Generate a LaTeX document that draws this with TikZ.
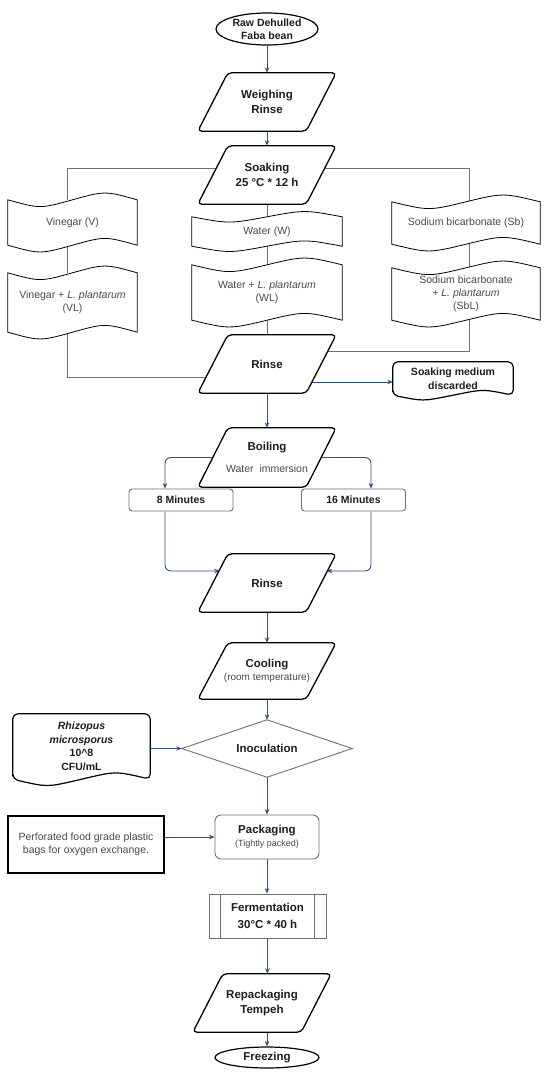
\documentclass[tikz,border=0pt]{standalone}
\usepackage{fontspec}
\setmainfont{Liberation Sans}
\usetikzlibrary{calc,arrows.meta,shapes.geometric}
\definecolor{arr}{HTML}{2E5283}
\definecolor{gline}{HTML}{707070}
\definecolor{txt}{HTML}{4A4A4A}
\definecolor{btxt}{HTML}{1E1E1E}
\pgfdeclarelayer{bg}\pgfdeclarelayer{shp}
\pgfsetlayers{bg,shp,main}
\tikzset{
 lbl/.style={inner sep=0pt, align=center, text=txt, font=\fontsize{10.5}{13}\selectfont},
 ttl/.style={font=\fontsize{11.5}{14.5}\selectfont\bfseries, text=btxt},
 bsm/.style={font=\fontsize{10.5}{13.5}\selectfont\bfseries, text=btxt},
 para/.style={lbl, minimum width=138pt, minimum height=58pt},
 pshape/.style={draw=black, line width=1.3pt, fill=white, rounded corners=4pt, line join=round},
 tshape/.style={draw=black, line width=0.8pt, fill=white},
 dshape/.style={draw=black, line width=1.2pt, fill=white, rounded corners=5pt},
 arrow/.style={draw=arr, line width=0.9pt, -{Stealth[length=5.5pt,width=4.5pt]}},
 gl/.style={draw=gline, line width=0.9pt},
 gbox/.style={lbl, draw=gline, line width=0.9pt, fill=white, rounded corners=3pt},
}
\newcommand\paraon[2][30]{\begin{pgfonlayer}{shp}\draw[pshape] ($(#2.north west)+(#1,0)$) -- (#2.north east) -- ($(#2.south east)+(-#1,0)$) -- (#2.south west) -- cycle;\end{pgfonlayer}}
\newcommand\tapeon[2][9]{\begin{pgfonlayer}{shp}\draw[tshape] (#2.north west) .. controls ($(#2.north west)!0.25!(#2.north east)+(0,#1)$) .. (#2.north) .. controls ($(#2.north west)!0.75!(#2.north east)+(0,-#1)$) .. (#2.north east) -- (#2.south east) .. controls ($(#2.south west)!0.75!(#2.south east)+(0,-#1)$) .. (#2.south) .. controls ($(#2.south west)!0.25!(#2.south east)+(0,#1)$) .. (#2.south west) -- cycle;\end{pgfonlayer}}
\newcommand\docon[2][7]{\begin{pgfonlayer}{shp}\draw[dshape] (#2.south west) -- (#2.north west) -- (#2.north east) -- (#2.south east) .. controls ($(#2.south west)!0.75!(#2.south east)+(0,-#1)$) .. (#2.south) .. controls ($(#2.south west)!0.25!(#2.south east)+(0,#1)$) .. (#2.south west) -- cycle;\end{pgfonlayer}}
\begin{document}
\begin{tikzpicture}[x=1pt,y=-1pt]
\useasboundingbox (0,0) rectangle (550,1076);
\begin{pgfonlayer}{bg}\fill[white] (0,0) rectangle (550,1076);\end{pgfonlayer}

% nodes
\node[lbl, bsm, ellipse, draw=black, line width=1.2pt, fill=white, minimum width=102pt, minimum height=32pt] (raw) at (267,29) {Raw Dehulled\\Faba bean};
\node[para, ttl] (weigh) at (267,102) {Weighing\\Rinse}; \paraon{weigh}
\node[para, ttl] (soak) at (267,175) {Soaking\\25 °C * 12 h}; \paraon{soak}
\node[lbl, minimum width=129pt, minimum height=45pt] (V) at (72.5,222.5) {Vinegar (V)}; \tapeon{V}
\node[lbl, minimum width=129pt, minimum height=59pt] (VL) at (72.5,302.5) {Vinegar + \textit{L. plantarum}\\(VL)}; \tapeon{VL}
\node[lbl, minimum width=150pt, minimum height=29pt] (W) at (267,231.5) {Water (W)}; \tapeon[7]{W}
\node[lbl, minimum width=150pt, minimum height=55pt] (WL) at (267,292.5) {Water + \textit{L. plantarum}\\(WL)}; \tapeon{WL}
\node[lbl, minimum width=148pt, minimum height=42pt] (Sb) at (466,223) {Sodium bicarbonate (Sb)}; \tapeon{Sb}
\node[lbl, minimum width=148pt, minimum height=52pt] (SbL) at (466,294) {Sodium bicarbonate\\+ \textit{L. plantarum}\\(SbL)}; \tapeon{SbL}
\node[para, ttl] (rinseA) at (267,364) {Rinse}; \paraon{rinseA}
\node[lbl, bsm, minimum width=120pt, minimum height=33pt] (discard) at (453,378.5) {Soaking medium\\discarded}; \docon[6]{discard}
\node[para, minimum height=59pt] (boil) at (267,457.5) {{\fontsize{11.5}{14}\selectfont\bfseries\color{btxt}Boiling}\\[9pt]Water\ \ immersion}; \paraon{boil}
\node[gbox, bsm, minimum width=104pt, minimum height=22pt] (m8) at (181,500) {8 Minutes};
\node[gbox, bsm, minimum width=104pt, minimum height=22pt] (m16) at (353.5,500) {16 Minutes};
\node[para, ttl] (rinseB) at (267,583) {Rinse}; \paraon{rinseB}
\node[para, minimum height=56pt] (cool) at (267,671) {{\fontsize{11.5}{14}\selectfont\bfseries\color{btxt}Cooling}\\{\fontsize{10}{12}\selectfont(room temperature)}}; \paraon{cool}
\node[lbl, ttl, minimum width=170pt, minimum height=57pt] (inoc) at (267,748.5) {Inoculation};
\begin{pgfonlayer}{shp}\draw[gline, line width=0.9pt, fill=white] (inoc.north) -- (inoc.east) -- (inoc.south) -- (inoc.west) -- cycle;\end{pgfonlayer}
\node[lbl, bsm, minimum width=137pt, minimum height=65pt] (rhiz) at (81.5,746.5) {\textit{Rhizopus}\\\textit{microsporus}\\10\textasciicircum 8\\CFU/mL}; \docon[8]{rhiz}
\node[gbox, minimum width=104pt, minimum height=44pt, rounded corners=6pt] (pack) at (267,837) {{\fontsize{11.5}{14}\selectfont\bfseries\color{btxt}Packaging}\\{\fontsize{9}{11}\selectfont(Tightly packed)}};
\node[lbl, draw=black, line width=2pt, fill=white, minimum width=156pt, minimum height=57pt] (perf) at (86,844.5) {Perforated food grade plastic\\bags for oxygen exchange.};
\node[lbl, ttl, draw=gline, line width=0.9pt, fill=white, minimum width=117pt, minimum height=44pt] (ferm) at (267.5,916) {Fermentation\\[3pt]30°C * 40 h};
\draw[gline, line width=0.9pt] ($(ferm.north west)+(12,0)$) -- ($(ferm.south west)+(12,0)$) ($(ferm.north east)+(-12,0)$) -- ($(ferm.south east)+(-12,0)$);
\node[para, ttl] (repack) at (262,1003) {Repackaging\\Tempeh}; \paraon{repack}
\node[lbl, ttl, ellipse, draw=black, line width=1.2pt, fill=white, minimum width=104pt, minimum height=21pt] (freeze) at (267,1057.5) {Freezing};

% connectors
\begin{pgfonlayer}{bg}
\draw[arrow] (raw.south) -- (weigh.north);
\draw[arrow] (weigh.south) -- (soak.north);
\draw[gl] (soak.south) -- (W.north);
\draw[gl] (W.south) -- (WL.north);
\draw[gl] (WL.south) -- (rinseA.north);
\draw[gl] ($(soak.center)+(0,-7)$) -| ($(V.north)+(-5.5,0)$);
\draw[gl] ($(soak.center)+(0,-7)$) -| ($(Sb.north)+(3,0)$);
\draw[gl] ($(V.south)+(-5.5,0)$) -- ($(VL.north)+(-5.5,0)$);
\draw[gl] ($(Sb.south)+(3,0)$) -- ($(SbL.north)+(3,0)$);
\draw[gl] ($(VL.south)+(-5.5,0)$) |- ($(rinseA.center)+(0,13)$);
\draw[gl] ($(SbL.south)+(3,0)$) |- ($(rinseA.center)+(0,-13)$);
\coordinate (r1a) at ($(rinseA.center)+(0,18)$);
\draw[arrow] (r1a) -- (r1a -| discard.west);
\draw[arrow] (rinseA.south) -- (boil.north);
\draw[arrow, rounded corners=6pt] (boil.center) -| ($(m8.north)+(-16,0)$);
\draw[arrow, rounded corners=6pt] (boil.center) -| ($(m16.north)+(17.5,0)$);
\draw[arrow, rounded corners=6pt] ($(m8.south)+(-16,0)$) |- ($(rinseB.center)+(-47.3,-12)$);
\draw[arrow, rounded corners=6pt] ($(m16.south)+(17.5,0)$) |- ($(rinseB.center)+(59.7,-12)$);
\draw[arrow] (rinseB.south) -- (cool.north);
\draw[arrow] (cool.south) -- (inoc.north);
\draw[arrow] (rhiz.center |- inoc.west) -- (inoc.west);
\draw[arrow] (inoc.south) -- (pack.north);
\draw[arrow] (perf.center |- pack.west) -- (pack.west);
\draw[arrow] (pack.south) -- (pack.south |- ferm.north);
\draw[arrow] (ferm.south) -- (ferm.south |- repack.north);
\draw[arrow] (freeze.north |- repack.south) -- (freeze.north);
\end{pgfonlayer}
\end{tikzpicture}
\end{document}
